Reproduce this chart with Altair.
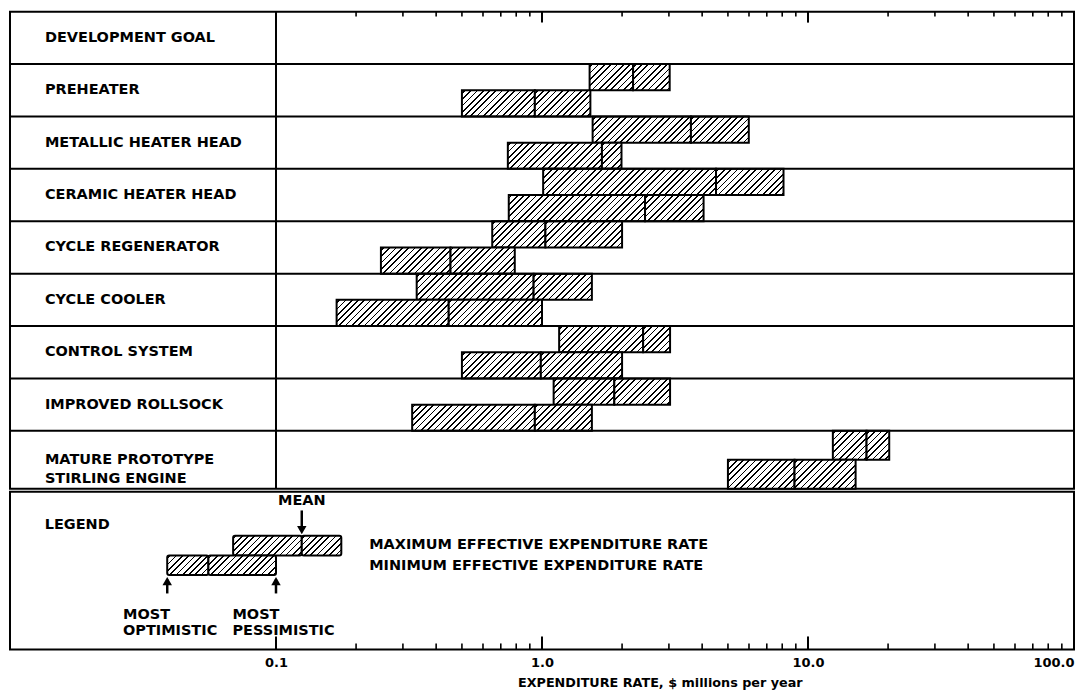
import math
import altair as alt

# ---------------- data ----------------
rows = ["DEVELOPMENT GOAL", "PREHEATER", "METALLIC HEATER HEAD", "CERAMIC HEATER HEAD",
        "CYCLE REGENERATOR", "CYCLE COOLER", "CONTROL SYSTEM", "IMPROVED ROLLSOCK",
        "MATURE PROTOTYPE\nSTIRLING ENGINE"]
components = rows[1:]

# maximum effective expenditure rate (upper bar): optimistic / mean / pessimistic
max_optimistic = [1.51, 1.55, 1.01, 0.65, 0.338, 1.16, 1.106, 12.4]
max_mean = [2.20, 3.63, 4.51, 1.03, 0.93, 2.40, 1.87, 16.6]
max_pessimistic = [3.02, 5.99, 8.09, 2.00, 1.54, 3.03, 3.03, 20.2]
# minimum effective expenditure rate (lower bar)
min_optimistic = [0.50, 0.744, 0.75, 0.248, 0.169, 0.50, 0.325, 5.0]
min_mean = [0.94, 1.68, 2.44, 0.453, 0.446, 0.99, 0.94, 8.9]
min_pessimistic = [1.52, 1.99, 4.05, 0.79, 1.00, 2.00, 1.54, 15.1]

# legend example bars
legend_max = [0.069, 0.125, 0.176]
legend_min = [0.039, 0.0557, 0.1]

tick_labels = [0.1, 1, 10, 100]
minor_ticks = [k * d for d in (0.1, 1, 10) for k in range(2, 10)]

# ---------------- layout ----------------
W = 1066
ROW_H = [52.5] * 8 + [58.0]          # row heights of the table (px units)
MAIN_H = sum(ROW_H)
LEG_H = 158
LEG_UNITS = 8
DEC = W / 4.0
FONT = "DejaVu Sans"
bar_h_leg = LEG_H / LEG_UNITS

row_top = [sum(ROW_H[:i]) for i in range(len(rows))]


def hatch(w, h, period=6.3, lw=1.7):
    """diagonal hatching as a hard-stop linear gradient (constant pixel spacing)"""
    L = w + h
    t = L / (w * w + h * h)
    stops = [{"offset": 0, "color": "white"}]
    c = period * 0.5
    while c < L:
        a = max(0.0, (c - lw / 2) / L)
        b = min(1.0, (c + lw / 2) / L)
        stops += [{"offset": round(a, 5), "color": "white"},
                  {"offset": round(a, 5), "color": "black"},
                  {"offset": round(b, 5), "color": "black"},
                  {"offset": round(b, 5), "color": "white"}]
        c += period
    stops.append({"offset": 1, "color": "white"})
    return {"gradient": "linear", "x1": 0, "y1": 0,
            "x2": round(t * w, 6), "y2": round(t * h, 6), "stops": stops}


def pxw(lo, hi):
    return DEC * math.log10(hi / lo)


xscale = alt.Scale(type="log", domain=[0.01, 100], nice=False)
yscale = alt.Scale(domain=[0, MAIN_H], reverse=True, nice=False, zero=False)


def MX(field):
    return alt.X(field, scale=xscale, axis=None)


def MY(field):
    return alt.Y(field, scale=yscale, axis=None)


# ---------------- main panel ----------------
bar_records = []
for i, comp in enumerate(components):
    r = i + 1
    top, h = row_top[r], ROW_H[r]
    for k, (o, m, p) in enumerate(((max_optimistic[i], max_mean[i], max_pessimistic[i]),
                                   (min_optimistic[i], min_mean[i], min_pessimistic[i]))):
        y0 = top + k * h / 2
        for lo, hi in ((o, m), (m, p)):
            bar_records.append({"row": comp, "lo": lo, "hi": hi, "y0": y0, "y1": y0 + h / 2,
                                "grad": hatch(pxw(lo, hi), h / 2)})

bars = alt.Chart(alt.Data(values=bar_records)).mark_rect(
    stroke="black", strokeWidth=2
).encode(x=MX("lo:Q"), x2="hi:Q", y=MY("y0:Q"), y2="y1:Q",
         color=alt.Color("grad:N", scale=None))

row_lines = alt.Chart(alt.Data(values=[{"y": row_top[r]} for r in range(1, len(rows))])).mark_rule(
    color="black", strokeWidth=2
).encode(y=MY("y:Q"))

divider = alt.Chart(alt.Data(values=[{"v": tick_labels[0]}])).mark_rule(
    color="black", strokeWidth=2
).encode(x=MX("v:Q"))

top_major = alt.Chart(alt.Data(values=[{"v": v} for v in tick_labels])).mark_rule(
    color="black", strokeWidth=2
).encode(x=MX("v:Q"), y=alt.value(0), y2=alt.value(11))

top_minor = alt.Chart(alt.Data(values=[{"v": v} for v in minor_ticks])).mark_rule(
    color="black", strokeWidth=1.6
).encode(x=MX("v:Q"), y=alt.value(0), y2=alt.value(5))

labels = alt.Chart(alt.Data(values=[{"row": rows[r], "y": row_top[r] + ROW_H[r] / 2}
                                    for r in range(len(rows))])).mark_text(
    align="left", baseline="middle", font=FONT, fontSize=14.5, fontWeight="bold",
    color="black", lineBreak="\n", lineHeight=19
).encode(x=alt.value(35), y=MY("y:Q"), text="row:N")

main = alt.layer(bars, row_lines, divider, top_major, top_minor, labels).properties(
    width=W, height=MAIN_H
)

# ---------------- legend panel ----------------
lscale = alt.Scale(domain=[0, LEG_UNITS], reverse=True, nice=False, zero=False)
leg_records = []
for (o, m, p), y0 in ((legend_max, 2.23), (legend_min, 3.23)):
    for lo, hi in ((o, m), (m, p)):
        leg_records.append({"lo": lo, "hi": hi, "y0": y0, "y1": y0 + 1.0,
                            "grad": hatch(pxw(lo, hi), bar_h_leg)})

xaxis = alt.Axis(values=tick_labels, format=".1f", ticks=False, domain=False, grid=False,
                 labelFont=FONT, labelFontSize=13, labelFontWeight="bold", labelColor="black",
                 labelPadding=7, labelFlush=True,
                 title="EXPENDITURE RATE, $ millions per year", titleFont=FONT,
                 titleFontSize=12.8, titleFontWeight="bold", titleColor="black",
                 titleX=651, titleY=37, titleAlign="center", titleBaseline="alphabetic")


def X(field):
    return alt.X(field, scale=xscale, axis=xaxis)


def Y(field):
    return alt.Y(field, scale=lscale, axis=None)


leg_bars = alt.Chart(alt.Data(values=leg_records)).mark_rect(
    stroke="black", strokeWidth=2, cornerRadius=2
).encode(x=X("lo:Q"), x2="hi:Q", y=Y("y0:Q"), y2="y1:Q",
         color=alt.Color("grad:N", scale=None))

leg_text_left = alt.Chart(alt.Data(values=[
    {"x": 0.0135, "y": 1.67, "t": "LEGEND"},
    {"x": 0.224, "y": 2.68, "t": "MAXIMUM EFFECTIVE  EXPENDITURE RATE"},
    {"x": 0.224, "y": 3.78, "t": "MINIMUM EFFECTIVE  EXPENDITURE RATE"},
    {"x": 0.0266, "y": 6.25, "t": "MOST\nOPTIMISTIC"},
    {"x": 0.0686, "y": 6.25, "t": "MOST\nPESSIMISTIC"},
])).mark_text(
    align="left", baseline="middle", font=FONT, fontSize=14.5, fontWeight="bold",
    color="black", lineBreak="\n", lineHeight=16
).encode(x=X("x:Q"), y=Y("y:Q"), text="t:N")

leg_text_mean = alt.Chart(alt.Data(values=[{"x": legend_max[1], "y": 0.45, "t": "MEAN"}])).mark_text(
    align="center", baseline="middle", font=FONT, fontSize=14.5, fontWeight="bold", color="black"
).encode(x=X("x:Q"), y=Y("y:Q"), text="t:N")

arrow_shafts = alt.Chart(alt.Data(values=[
    {"x": legend_max[1], "y": 0.95, "y2": 2.0},
    {"x": legend_min[0], "y": 4.45, "y2": 5.16},
    {"x": legend_min[2], "y": 4.45, "y2": 5.16},
])).mark_rule(color="black", strokeWidth=2.5).encode(x=X("x:Q"), y=Y("y:Q"), y2="y2:Q")

arrow_down = alt.Chart(alt.Data(values=[{"x": legend_max[1], "y": 1.95}])).mark_point(
    shape="triangle-down", filled=True, color="black", size=90, opacity=1
).encode(x=X("x:Q"), y=Y("y:Q"))

arrow_up = alt.Chart(alt.Data(values=[{"x": legend_min[0], "y": 4.53},
                                      {"x": legend_min[2], "y": 4.53}])).mark_point(
    shape="triangle-up", filled=True, color="black", size=90, opacity=1
).encode(x=X("x:Q"), y=Y("y:Q"))

bot_major = alt.Chart(alt.Data(values=[{"v": v} for v in tick_labels])).mark_rule(
    color="black", strokeWidth=2
).encode(x=X("v:Q"), y=alt.value(LEG_H), y2=alt.value(LEG_H - 13))

bot_minor = alt.Chart(alt.Data(values=[{"v": v} for v in minor_ticks])).mark_rule(
    color="black", strokeWidth=1.6
).encode(x=X("v:Q"), y=alt.value(LEG_H), y2=alt.value(LEG_H - 6))

legend = alt.layer(leg_bars, leg_text_left, leg_text_mean, arrow_shafts, arrow_down, arrow_up,
                   bot_major, bot_minor).properties(width=W, height=LEG_H)

chart = alt.vconcat(main, legend, spacing=0).properties(
    padding={"left": 0, "top": 1, "right": 0, "bottom": 0}
).configure(background="white").configure_view(stroke="black", strokeWidth=2, fill="white")

chart.save("out.html", embed_options={"renderer": "svg", "actions": False})
